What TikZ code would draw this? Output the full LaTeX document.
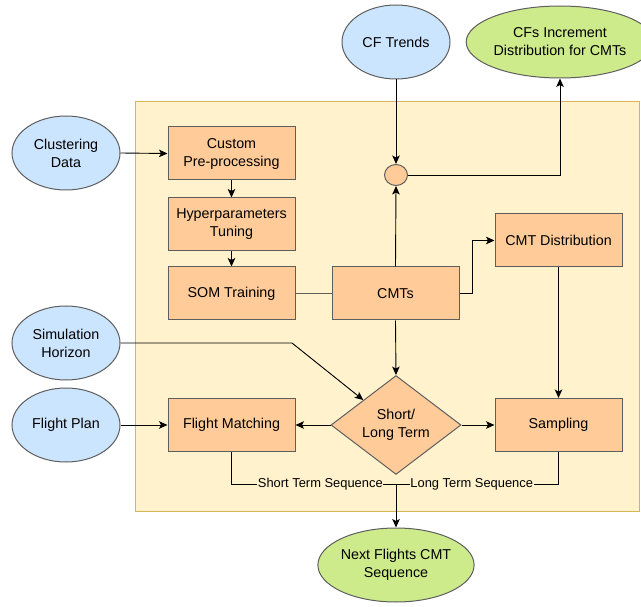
\documentclass[tikz,border=0pt]{standalone}
\usepackage{fontspec}
\setmainfont{Liberation Sans}
\usetikzlibrary{shapes.geometric,arrows.meta}
\definecolor{bluef}{HTML}{CCE5FF}
\definecolor{greenf}{HTML}{CDEB8B}
\definecolor{orangef}{HTML}{FFCC99}
\definecolor{contf}{HTML}{FFF2CC}
\definecolor{contd}{HTML}{D6B656}
\definecolor{edgec}{HTML}{5E5E5E}
\tikzset{
  x=1pt, y=-1pt,
  every node/.style={font=\fontsize{14.3}{18}\selectfont, align=center},
  inell/.style={ellipse, draw=edgec, fill=bluef, line width=1pt, inner sep=0pt, minimum width=108pt, minimum height=74pt},
  outell/.style={ellipse, draw=edgec, fill=greenf, line width=1pt, inner sep=0pt},
  procbox/.style={rectangle, draw=edgec, fill=orangef, line width=1pt, inner sep=0pt, minimum width=127pt, minimum height=53pt},
  arr/.style={-{Stealth[length=8.5pt,width=7.5pt,inset=2pt]}, line width=0.9pt, black},
  plain/.style={line width=1pt, edgec},
  lab/.style={font=\fontsize{12.9}{15}\selectfont, fill=contf, inner sep=0.5pt}
}
\begin{document}
\begin{tikzpicture}
\useasboundingbox (0,0) rectangle (641,607);
% container
\draw[draw=contd, fill=contf, line width=1pt] (135,102) rectangle (639.5,511);
% nodes
\node[inell] (cft) at (396,42) {CF Trends};
\node[outell, minimum width=158pt, minimum height=72pt] (cfs) at (560,42) {CFs Increment\\Distribution for CMTs};
\node[inell] (clu) at (66,153) {Clustering\\Data};
\node[inell] (sim) at (66,343) {Simulation\\Horizon};
\node[inell] (fp) at (66,425) {Flight Plan};
\node[procbox] (pre) at (231.5,153.5) {Custom\\Pre-processing};
\node[procbox] (hyp) at (231.5,224.5) {Hyperparameters\\Tuning};
\node[procbox] (som) at (231.5,293.5) {SOM Training};
\node[procbox] (cmt) at (395.5,293.5) {CMTs};
\node[procbox] (dist) at (558.5,240.5) {CMT Distribution};
\node[procbox] (fm) at (231.5,425) {Flight Matching};
\node[procbox] (samp) at (558.5,425) {Sampling};
\node[ellipse, draw=edgec, fill=orangef, line width=1pt, inner sep=0pt, minimum width=23pt, minimum height=21pt] (circ) at (396,175) {};
\node[diamond, draw=edgec, fill=orangef, line width=1pt, inner sep=0pt, minimum width=130pt, minimum height=96pt] (dia) at (396,425) {Short/\\Long Term};
\node[outell, minimum width=156pt, minimum height=74pt] (nxt) at (396,565) {Next Flights CMT\\Sequence};
\coordinate (junc) at (396,484);
% connectors
\draw[arr] (cft.south) -- (circ.north);
\draw[arr] (circ.east) -| (cfs.south);
\draw[arr] (clu.east) -- (pre.west);
\draw[arr] (pre.south) -- (hyp.north);
\draw[arr] (hyp.south) -- (som.north);
\draw[plain] (som.east) -- (cmt.west);
\draw[arr] (cmt.north) -- (circ.south);
\draw[arr] (cmt.east) -- ++(13,0) |- (dist.west);
\draw[arr] (cmt.south) -- (dia.north);
\draw[arr] (sim.east) -- (292,343) -- (dia.north west);
\draw[arr] (fp.east) -- (fm.west);
\draw[arr] (dia.west) -- (fm.east);
\draw[arr] (dia.east) -- (samp.west);
\draw[arr] (dist.south) -- (samp.north);
\draw[line width=0.9pt] (fm.south) |- node[lab, pos=0.77] {Short Term Sequence} (junc);
\draw[line width=0.9pt] (samp.south) |- node[lab, pos=0.767] {Long Term Sequence} (junc);
\draw[arr] (junc) -- (nxt.north);
\end{tikzpicture}
\end{document}
